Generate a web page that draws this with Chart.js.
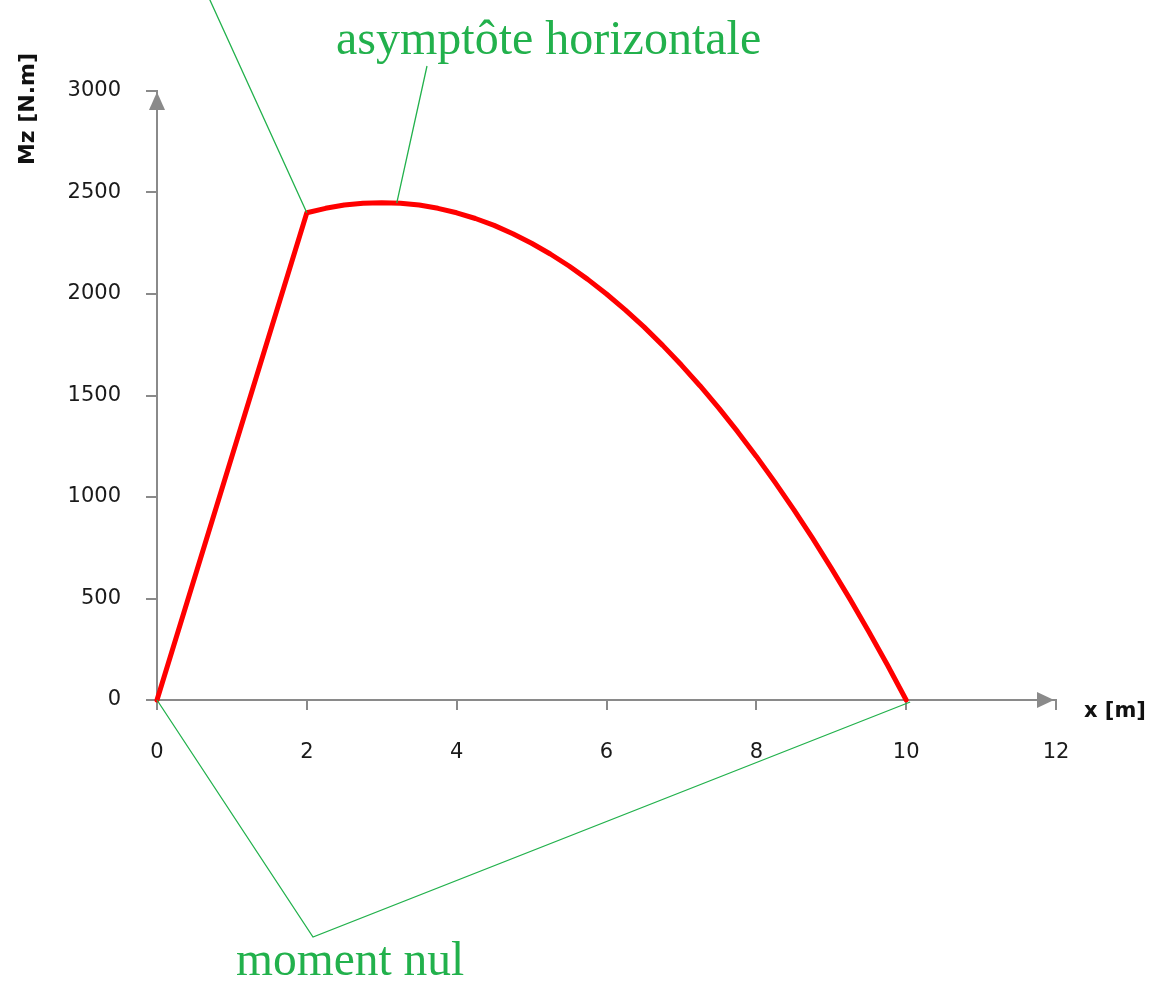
<!DOCTYPE html>
<html>
<head>
<meta charset="utf-8">
<script src="https://cdn.jsdelivr.net/npm/chart.js@4.4.0/dist/chart.umd.min.js"></script>
<style>
  html, body { margin: 0; padding: 0; background: #fff; }
  #wrap { position: relative; width: 1153px; height: 983px; }
</style>
</head>
<body>
<div id="wrap"><canvas id="moment"></canvas></div>
<script>
// bending moment along the beam
const positions = [0, 2, 2.25, 2.5, 2.75, 3, 3.25, 3.5, 3.75, 4, 4.25, 4.5, 4.75, 5, 5.25, 5.5, 5.75,
  6, 6.25, 6.5, 6.75, 7, 7.25, 7.5, 7.75, 8, 8.25, 8.5, 8.75, 9, 9.25, 9.5, 9.75, 10];
const moments = [0, 2400, 2422, 2438, 2447, 2450, 2447, 2438, 2422, 2400, 2372, 2338, 2297, 2250, 2197, 2138, 2072,
  2000, 1922, 1838, 1747, 1650, 1547, 1438, 1322, 1200, 1072, 938, 797, 650, 497, 338, 172, 0];

const xTicks = [0, 2, 4, 6, 8, 10, 12];
const yTicks = [0, 500, 1000, 1500, 2000, 2500, 3000];

const xTitle = 'x [m]';
const yTitle = 'Mz [N.m]';
const noteTop = 'asymptôte horizontale';
const noteBottom = 'moment nul';

const axisGray = '#8a8a8a';
const green = '#22b14c';

const annotate = {
  id: 'annotate',
  afterDraw(chart) {
    const ctx = chart.ctx;
    const x = chart.scales.x, y = chart.scales.y;
    const x0 = x.getPixelForValue(0), y0 = y.getPixelForValue(0);
    const xEnd = x.getPixelForValue(12), yEnd = y.getPixelForValue(3000);
    ctx.save();

    // arrow heads on both axes
    ctx.fillStyle = axisGray;
    ctx.beginPath();
    ctx.moveTo(x0, yEnd + 1);
    ctx.lineTo(x0 - 8, yEnd + 19);
    ctx.lineTo(x0 + 8, yEnd + 19);
    ctx.closePath();
    ctx.fill();
    ctx.beginPath();
    ctx.moveTo(xEnd - 2, y0);
    ctx.lineTo(xEnd - 19, y0 - 8);
    ctx.lineTo(xEnd - 19, y0 + 8);
    ctx.closePath();
    ctx.fill();

    // axis titles
    ctx.fillStyle = '#111';
    ctx.textBaseline = 'middle';
    ctx.textAlign = 'left';
    ctx.font = 'bold 21px "DejaVu Sans"';
    ctx.fillText(xTitle, 1084, 712);
    ctx.save();
    ctx.translate(28, 109);
    ctx.rotate(-Math.PI / 2);
    ctx.textAlign = 'center';
    ctx.font = 'bold 22px "DejaVu Sans"';
    ctx.fillText(yTitle, 0, 0);
    ctx.restore();

    // callout lines
    ctx.strokeStyle = green;
    ctx.lineWidth = 1.3;
    const kink = [x.getPixelForValue(2), y.getPixelForValue(2400)];
    const crest = [x.getPixelForValue(3.2), y.getPixelForValue(2448)];
    ctx.beginPath();
    ctx.moveTo(209, -2);
    ctx.lineTo(kink[0], kink[1]);
    ctx.moveTo(427, 66);
    ctx.lineTo(crest[0], crest[1]);
    ctx.stroke();

    ctx.beginPath();
    ctx.moveTo(x0, y0);
    ctx.lineTo(313, 937);
    ctx.lineTo(x.getPixelForValue(10) + 4, y0 + 2);
    ctx.stroke();

    // callout texts
    ctx.fillStyle = green;
    ctx.textBaseline = 'alphabetic';
    ctx.textAlign = 'left';
    ctx.font = '48px "Liberation Serif"';
    ctx.fillText(noteTop, 336, 54);
    ctx.font = '47.5px "Liberation Serif"';
    ctx.fillText(noteBottom, 236, 975);
    ctx.restore();
  }
};

const tickFont = { family: 'DejaVu Sans', size: 21 };

new Chart(document.getElementById('moment'), {
  type: 'line',
  data: {
    datasets: [{
      data: positions.map((p, i) => ({ x: p, y: moments[i] })),
      borderColor: '#ff0000',
      borderWidth: 5,
      borderJoinStyle: 'round',
      borderCapStyle: 'round',
      pointRadius: 0,
      tension: 0,
      clip: false
    }]
  },
  options: {
    responsive: true,
    maintainAspectRatio: false,
    animation: false,
    layout: { padding: { top: 91, right: 97, left: 0, bottom: 0 } },
    plugins: { legend: { display: false }, tooltip: { enabled: false } },
    scales: {
      x: {
        type: 'linear',
        min: 0,
        max: 12,
        afterBuildTicks: (s) => { s.ticks = xTicks.map(v => ({ value: v })); },
        afterFit: (s) => { s.height = 283; },
        border: { color: axisGray, width: 2 },
        grid: { drawOnChartArea: false, tickLength: 10, color: axisGray, lineWidth: 2 },
        ticks: { padding: 30, color: '#1a1a1a', font: tickFont, callback: (v) => String(v) }
      },
      y: {
        type: 'linear',
        min: 0,
        max: 3000,
        afterBuildTicks: (s) => { s.ticks = yTicks.map(v => ({ value: v })); },
        afterFit: (s) => { s.width = 157; },
        border: { color: axisGray, width: 2 },
        grid: { drawOnChartArea: false, tickLength: 11, color: axisGray, lineWidth: 2 },
        ticks: { padding: 25, color: '#1a1a1a', font: tickFont, callback: (v) => String(v) }
      }
    }
  },
  plugins: [annotate]
});
</script>
</body>
</html>
